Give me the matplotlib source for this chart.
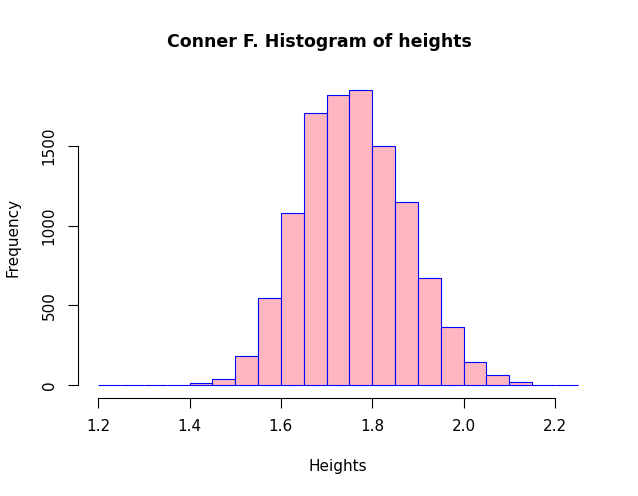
import matplotlib
matplotlib.use("Agg")
import matplotlib.pyplot as plt
import numpy as np

bin_edges = [round(1.2 + 0.05 * i, 2) for i in range(22)]
counts = [1, 0, 2, 4, 12, 40, 182, 546, 1080, 1707, 1820, 1852, 1500, 1149,
          672, 364, 144, 63, 19, 3, 1]
xticks = [1.2, 1.4, 1.6, 1.8, 2.0, 2.2]
yticks = [0, 500, 1000, 1500]

fig = plt.figure(figsize=(6.38, 4.96), dpi=100)
W, H = 638, 496
ax = fig.add_axes([79 / W, 1 - 397 / H, (597 - 79) / W, (397 - 78) / H])
ax.bar(bin_edges[:-1], counts, width=0.05, align="edge",
       color="#FFB6C1", edgecolor="blue", linewidth=0.8)
ax.set_xlim(1.158, 2.292)
ax.set_ylim(-74, 1926)
for s in ["top", "right"]:
    ax.spines[s].set_visible(False)
ax.spines["bottom"].set_bounds(1.2, 2.2)
ax.spines["left"].set_bounds(0, 1500)
ax.spines["bottom"].set_position(("outward", 1))
ax.spines["left"].set_position(("outward", 1))
ax.set_xticks(xticks)
ax.set_xticklabels([f"{v:.1f}" for v in xticks])
ax.set_yticks(yticks)
ax.set_yticklabels([str(v) for v in yticks], rotation=90, va="center")
ax.tick_params(length=7, labelsize=11, pad=8)
fig.text(0.5, 1 - 42 / H, "Conner F. Histogram of heights", ha="center",
         va="center", fontsize=12.5, fontweight="bold")
fig.text(338 / W, 1 - 466 / H, "Heights", ha="center", va="center", fontsize=11)
fig.text(13 / W, 1 - 237 / H, "Frequency", ha="center", va="center",
         rotation=90, fontsize=11)
fig.savefig("out.png", dpi=100)
